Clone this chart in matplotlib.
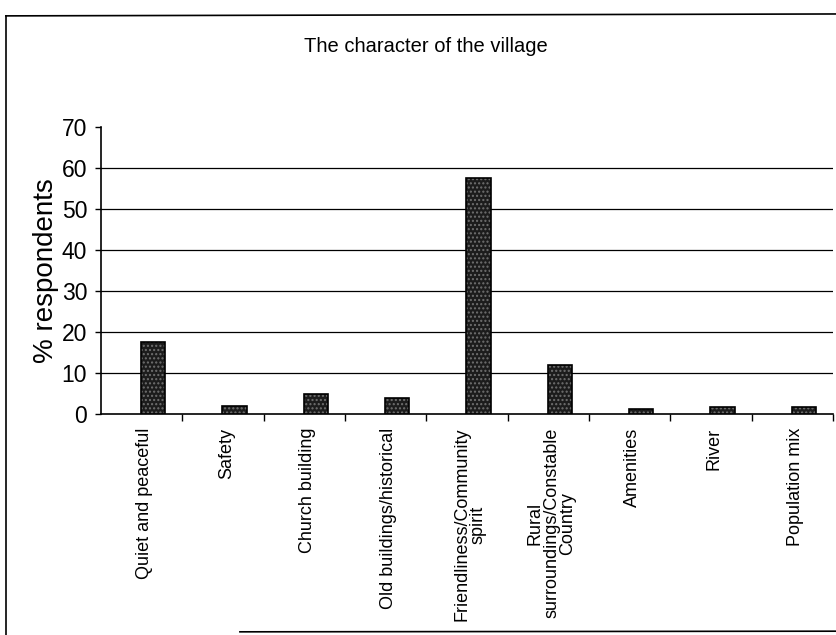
import matplotlib
matplotlib.use('Agg')
import matplotlib.pyplot as plt
from matplotlib.lines import Line2D
import numpy as np

categories = [
    'Quiet and peaceful',
    'Safety',
    'Church building',
    'Old buildings/historical',
    'Friendliness/Community\nspirit',
    'Rural\nsurroundings/Constable\nCountry',
    'Amenities',
    'River',
    'Population mix',
]
percent = [17.5, 2.0, 4.8, 4.0, 57.5, 12.0, 1.3, 1.7, 1.7]
y_ticks = [0, 10, 20, 30, 40, 50, 60, 70]

plt.rcParams['font.family'] = ['Liberation Sans', 'DejaVu Sans']

fig = plt.figure(figsize=(8.36, 6.35), dpi=100)
ax = fig.add_axes([0.1208, 0.348, 0.8756, 0.452])

x = np.arange(len(categories))

# stippled dark bars: hatch layer then black outline
ax.bar(x + 0.14, percent, width=0.3, facecolor='#1c1c1c', edgecolor='#707070',
       hatch='....', linewidth=0, zorder=3)
ax.bar(x + 0.14, percent, width=0.3, fill=False, edgecolor='black',
       linewidth=1.2, zorder=4)

# horizontal gridlines (none at the top value)
for v in y_ticks[1:-1]:
    ax.axhline(v, color='black', linewidth=0.9, zorder=1)

ax.set_xlim(-0.5, len(categories) - 0.5)
ax.set_ylim(0, 70)

ax.set_yticks(y_ticks)
ax.tick_params(axis='y', direction='out', length=4, width=1, labelsize=16.5, pad=6)

ax.set_xticks(x + 0.04)
ax.set_xticklabels(categories, rotation=90, fontsize=13, ha='center', va='top',
                   multialignment='center', linespacing=0.95)
ax.set_xticks(np.arange(len(categories)) + 0.5, minor=True)
ax.tick_params(axis='x', which='major', length=0, pad=10)
ax.tick_params(axis='x', which='minor', direction='out', length=5, width=1)

for s in ['top', 'right']:
    ax.spines[s].set_visible(False)
ax.spines['left'].set_linewidth(1.2)
ax.spines['bottom'].set_linewidth(1.2)

ax.set_ylabel('% respondents', fontsize=20)
ax.yaxis.set_label_coords(-0.058, 0.5)

fig.text(0.510, 0.926, 'The character of the village', fontsize=14.5,
         ha='center', va='center')

# outer frame of the scanned chart
fig.add_artist(Line2D([0.007, 0.007], [0.0, 0.975], color='black', linewidth=1.2))
fig.add_artist(Line2D([0.007, 1.0], [0.975, 0.978], color='black', linewidth=1.2))
fig.add_artist(Line2D([0.287, 1.0], [0.005, 0.006], color='black', linewidth=1.2))

fig.savefig('out.png', dpi=100)
